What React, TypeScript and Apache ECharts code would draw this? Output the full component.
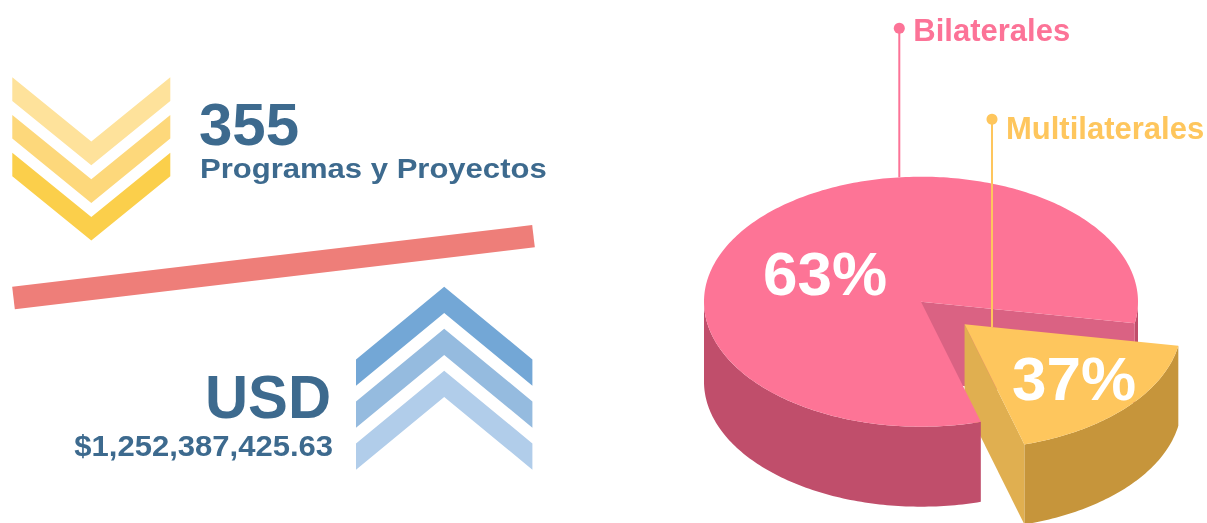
import React, { useEffect, useRef } from "react";
import * as echarts from "echarts";

// ---- data ----
const categories = ["Bilaterales", "Multilaterales"];
const shareValues = [63, 37]; // percentages printed on the slices
const drawnShare = [82.2, 17.8]; // wedge size as drawn in the reference picture
const explode = [0, 0.27];
const topColors = ["#FD7496", "#FEC65D"];
const sideColors = ["#C04E6B", "#C6953B"];
const cutColors = ["#DA6283", "#E0AF50"];
const legendColors = ["#FC7397", "#FEC65D"];

const programCount = "355";
const programLabel = "Programas y Proyectos";
const currencyLabel = "USD";
const amountLabel = "$1,252,387,425.63";

// ---- layout ----
const FONT = "'Liberation Sans', Arial, Helvetica, sans-serif";
const TEXT_BLUE = "#3D6A8E";
const CX = 921, CY = 301.7, RX = 217, RY = 125, DEPTH = 80, START_DEG = 74;
const LABEL_POS = [[825, 273], [1074, 378.5]];
const CALLOUT = [[899.3, 28.3], [992, 119.3]];
const CALLOUT_TEXT_DY = [1.7, 9];

type Pt = [number, number];
const rad = (d: number) => (d * Math.PI) / 180;
function rim(deg: number, dx: number, dy: number, dz: number): Pt {
  return [CX + dx + RX * Math.cos(rad(deg)), CY + dy + RY * Math.sin(rad(deg)) + dz];
}
function arc(a0: number, a1: number, dx: number, dy: number, dz: number): Pt[] {
  const n = Math.max(2, Math.ceil(Math.abs(a1 - a0)));
  const pts: Pt[] = [];
  for (let i = 0; i <= n; i++) pts.push(rim(a0 + ((a1 - a0) * i) / n, dx, dy, dz));
  return pts;
}
function topY(poly: Pt[], x: number) {
  let best = Infinity;
  for (let i = 0; i < poly.length; i++) {
    const p = poly[i], q = poly[(i + 1) % poly.length];
    if ((p[0] - x) * (q[0] - x) <= 0 && p[0] !== q[0]) {
      const t = (x - p[0]) / (q[0] - p[0]);
      best = Math.min(best, p[1] + t * (q[1] - p[1]));
    }
  }
  return best;
}

function chevron(cx: number, y0: number, w: number, h: number, t: number, down: boolean): Pt[] {
  if (down) {
    return [[cx - w, y0], [cx, y0 + h], [cx + w, y0], [cx + w, y0 + t], [cx, y0 + h + t], [cx - w, y0 + t]];
  }
  return [[cx, y0], [cx + w, y0 + h], [cx + w, y0 + h + t], [cx, y0 + t], [cx - w, y0 + h + t], [cx - w, y0 + h]];
}

function renderPie(params: any) {
  if (params.dataIndex !== 0) return null;
  const total = drawnShare.reduce((s, v) => s + v, 0);
  let a = START_DEG;
  const slices = categories.map((name, i) => {
    const sweep = (drawnShare[i] / total) * 360;
    const a0 = a, a1 = a + sweep, mid = a + sweep / 2;
    a += sweep;
    const dx = RX * explode[i] * Math.cos(rad(mid));
    const dy = RY * explode[i] * Math.sin(rad(mid));
    const top: Pt[] = [[CX + dx, CY + dy] as Pt].concat(arc(a0, a1, dx, dy, 0));
    return { i, name, a0, a1, mid, dx, dy, top };
  });
  // layered pieces: 0 = behind the exploded wedge, 1 = exploded wedge, 2 = front of the body
  const pieces: { z: number; el: any }[] = [];
  slices.forEach((s) => {
    const exploded = explode[s.i] > 0;
    for (let k = 0; k < 3; k++) {
      const b0 = Math.max(s.a0, k * 360), b1 = Math.min(s.a1, k * 360 + 180);
      if (b1 > b0) {
        const pts = arc(b0, b1, s.dx, s.dy, 0).concat(arc(b1, b0, s.dx, s.dy, DEPTH));
        const m = ((b0 + b1) / 2) % 360;
        const z = exploded ? 1 : m < 90 ? 0 : 2;
        pieces.push({ z, el: { type: "polygon", shape: { points: pts }, style: { fill: sideColors[s.i] } } });
      }
    }
    const c: Pt = [CX + s.dx, CY + s.dy];
    const wall = (deg: number) => {
      const r = rim(deg, s.dx, s.dy, 0);
      return [c, r, [r[0], r[1] + DEPTH], [c[0], c[1] + DEPTH]];
    };
    const wz = exploded ? 1 : 0;
    if (Math.cos(rad(s.a0)) < 0) pieces.push({ z: wz, el: { type: "polygon", shape: { points: wall(s.a0) }, style: { fill: cutColors[s.i] } } });
    if (Math.cos(rad(s.a1)) > 0) pieces.push({ z: wz, el: { type: "polygon", shape: { points: wall(s.a1) }, style: { fill: cutColors[s.i] } } });
    pieces.push({ z: exploded ? 1 : 2, el: { type: "polygon", shape: { points: s.top }, style: { fill: topColors[s.i] } } });
  });
  const children: any[] = [];
  [0, 1, 2].forEach((z) => pieces.filter((p) => p.z === z).forEach((p) => children.push(p.el)));

  slices.forEach((s) => {
    children.push({
      type: "text",
      x: LABEL_POS[s.i][0],
      y: LABEL_POS[s.i][1],
      style: {
        text: shareValues[s.i] + "%",
        fill: "#FFFFFF",
        fontSize: 62,
        fontWeight: "bold",
        fontFamily: FONT,
        align: "center",
        textAlign: "center",
        verticalAlign: "middle",
        textVerticalAlign: "middle",
      },
    });
  });
  slices.forEach((s) => {
    const [x, y] = CALLOUT[s.i];
    const endY = topY(s.top, x);
    children.push({ type: "line", shape: { x1: x, y1: y, x2: x, y2: endY }, style: { stroke: legendColors[s.i], lineWidth: 2 } });
    children.push({ type: "circle", shape: { cx: x, cy: y, r: 5.5 }, style: { fill: legendColors[s.i] } });
    children.push({
      type: "text",
      x: x + 14,
      y: y + CALLOUT_TEXT_DY[s.i],
      style: {
        text: s.name,
        fill: legendColors[s.i],
        fontSize: 31,
        fontWeight: "bold",
        fontFamily: FONT,
        align: "left",
        textAlign: "left",
        verticalAlign: "middle",
        textVerticalAlign: "middle",
      },
    });
  });
  return { type: "group", children };
}

function txt(text: string, x: number, y: number, size: number, align: string, scaleX: number) {
  return {
    type: "text",
    x,
    y,
    scaleX,
    style: {
      text,
      x: 0,
      y: 0,
      fill: TEXT_BLUE,
      fontSize: size,
      fontWeight: "bold",
      fontFamily: FONT,
      align,
      textAlign: align,
      verticalAlign: "middle",
      textVerticalAlign: "middle",
    },
  };
}

export default function App() {
  const ref = useRef<HTMLDivElement>(null);
  useEffect(() => {
    if (!ref.current) return;
    const chart = echarts.init(ref.current, null, { renderer: "svg" });
    const yellow = ["#FEE29B", "#FDD87B", "#FBCF4B"];
    const blue = ["#73A7D6", "#95BBDF", "#B1CDEA"];
    const graphic: any[] = [];
    [77.3, 115, 152.7].forEach((y0, i) =>
      graphic.push({ type: "polygon", shape: { points: chevron(91.3, y0, 79, 64.3, 23.6, true) }, style: { fill: yellow[i] } })
    );
    graphic.push({
      type: "line",
      shape: { x1: 13.5, y1: 298, x2: 533.5, y2: 236.2 },
      style: { stroke: "#EE7E79", lineWidth: 22.5, lineCap: "butt" },
    });
    [286.7, 328.7, 370.7].forEach((y0, i) =>
      graphic.push({ type: "polygon", shape: { points: chevron(444.2, y0, 88.2, 72.7, 26.3, false) }, style: { fill: blue[i] } })
    );
    graphic.push(txt(programCount, 199, 124, 60, "left", 1));
    graphic.push(txt(programLabel, 200, 169, 27, "left", 1.15));
    graphic.push(txt(currencyLabel, 331, 396.7, 62, "right", 0.963));
    graphic.push(txt(amountLabel, 333, 446.3, 29, "right", 1.07));

    chart.setOption({
      animation: false,
      graphic,
      series: [
        {
          type: "custom",
          coordinateSystem: "none",
          renderItem: renderPie,
          data: [0],
          silent: true,
        },
      ],
    });
    return () => chart.dispose();
  }, []);
  return <div ref={ref} style={{ position: "fixed", left: 0, top: 0, width: 1207, height: 523 }} />;
}
